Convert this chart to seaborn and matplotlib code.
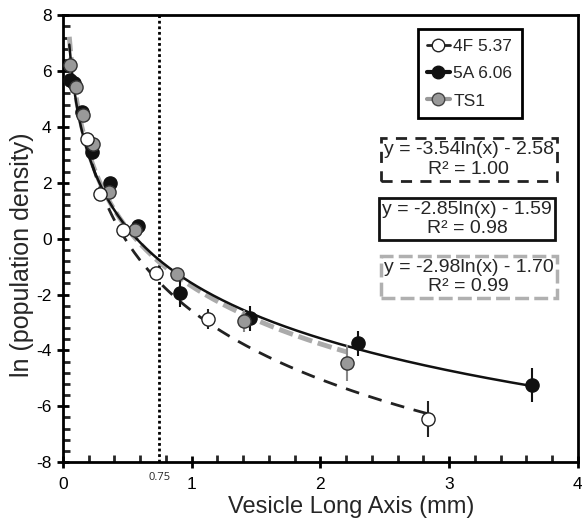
import numpy as np
import pandas as pd
import seaborn as sns
import matplotlib.pyplot as plt
from matplotlib.lines import Line2D
from matplotlib.ticker import MultipleLocator

# ---- data ----
x_4f = [0.19, 0.29, 0.47, 0.72, 1.13, 2.835]
y_4f = [3.56, 1.60, 0.30, -1.23, -2.88, -6.46]
e_4f = [0.0, 0.0, 0.0, 0.0, 0.35, 0.65]

x_5a = [0.054, 0.09, 0.145, 0.23, 0.365, 0.58, 0.91, 1.45, 2.29, 3.64]
y_5a = [5.67, 5.56, 4.53, 3.10, 2.00, 0.45, -1.96, -2.85, -3.75, -5.24]
e_5a = [0.0, 0.0, 0.0, 0.0, 0.0, 0.0, 0.5, 0.45, 0.45, 0.6]

x_ts = [0.054, 0.10, 0.155, 0.235, 0.36, 0.56, 0.89, 1.41, 2.21]
y_ts = [6.20, 5.42, 4.42, 3.38, 1.67, 0.32, -1.28, -2.95, -4.46]
e_ts = [0.0, 0.0, 0.0, 0.0, 0.0, 0.0, 0.0, 0.4, 0.65]

# log fits printed on the chart: y = a*ln(x) + b  (a, b, x start, x end)
fit_4f = (-3.54, -2.58, 0.18, 2.85)
fit_5a = (-2.85, -1.59, 0.05, 3.64)
fit_ts = (-2.98, -1.70, 0.05, 2.21)

sns.set_style("ticks")
plt.rcParams['font.family'] = ['Liberation Sans', 'DejaVu Sans']
plt.rcParams['axes.unicode_minus'] = False

fig = plt.figure(figsize=(5.82, 5.24), dpi=100)
ax = fig.add_axes([0.108, 0.118, 0.885, 0.853])

# fitted curves
def curve(fit):
    a, b, x0, x1 = fit
    xs = np.linspace(x0, x1, 200)
    return pd.DataFrame({"x": xs, "y": a * np.log(xs) + b})

sns.lineplot(data=curve(fit_ts), x="x", y="y", ax=ax, color="#ababab",
             lw=3.5, dashes=(3, 1.2), legend=False)
sns.lineplot(data=curve(fit_4f), x="x", y="y", ax=ax, color="#222222",
             lw=2, dashes=(5, 3.5), legend=False)
sns.lineplot(data=curve(fit_5a), x="x", y="y", ax=ax, color="#111111",
             lw=1.8, legend=False)

# points with error bars
ms = 9.5
ax.errorbar(x_ts, y_ts, yerr=e_ts, fmt="o", ms=ms, mfc="#999999",
            mec="#333333", mew=1, ecolor="#888888", elinewidth=1.5, zorder=4)
ax.errorbar(x_5a, y_5a, yerr=e_5a, fmt="o", ms=ms, mfc="#111111",
            mec="#111111", mew=1, ecolor="#111111", elinewidth=1.5, zorder=3)
ax.errorbar(x_4f, y_4f, yerr=e_4f, fmt="o", ms=ms, mfc="white",
            mec="#222222", mew=1, ecolor="#222222", elinewidth=1.5, zorder=5)

# 0.75 marker line
ax.axvline(0.75, color="black", ls=(0, (1, 1)), lw=2, zorder=1)
ax.text(0.75, -8.35, "0.75", ha="center", va="top", fontsize=8,
        family=["Open Sans", "DejaVu Sans"])

ax.set_xlim(0, 4)
ax.set_ylim(-8, 8)
ax.xaxis.set_major_locator(MultipleLocator(1))
ax.xaxis.set_minor_locator(MultipleLocator(0.2))
ax.yaxis.set_major_locator(MultipleLocator(2))
ax.yaxis.set_minor_locator(MultipleLocator(0.4))
ax.tick_params(which="major", direction="inout", length=9, width=2,
               labelsize=12.5, colors="black")
ax.tick_params(which="minor", direction="in", length=5, width=2)
ax.tick_params(axis="x", pad=6)
for s in ax.spines.values():
    s.set_linewidth(2)
    s.set_color("black")

ax.set_xlabel("Vesicle Long Axis (mm)", fontsize=17)
ax.xaxis.set_label_coords(0.56, -0.075, transform=ax.transAxes)
ax.xaxis.label.set_va("top")
ax.set_ylabel("ln (population density)", fontsize=18)
ax.yaxis.set_label_coords(-0.08, 0.465, transform=ax.transAxes)
ax.yaxis.label.set_va("center")

# legend
handles = [
    Line2D([], [], color="#222222", lw=2, marker="o", ms=9, mfc="white",
           mec="#222222", label="4F 5.37"),
    Line2D([], [], color="#111111", lw=3, marker="o", ms=9, mfc="#111111",
           mec="#111111", label="5A 6.06"),
    Line2D([], [], color="#999999", lw=3, marker="o", ms=9, mfc="#999999",
           mec="#444444", label="TS1"),
]
leg = ax.legend(handles=handles, loc="upper left",
                bbox_to_anchor=(0.672, 0.988), fontsize=12.5, handlelength=1.3,
                handletextpad=0.2, labelspacing=0.7, borderpad=0.55,
                fancybox=False, framealpha=1, edgecolor="black")
leg.get_frame().set_linewidth(2)

# equation boxes
eq_kw = dict(ha="center", va="center", fontsize=14, transform=ax.transAxes,
             multialignment="center", zorder=6, linespacing=1.2)
ax.text(0.788, 0.677, "y = -3.54ln(x) - 2.58\nR² = 1.00",
        bbox=dict(boxstyle="square,pad=0.15", fc="white", ec="#222222",
                  lw=2, ls=(0, (4, 3))), **eq_kw)
ax.text(0.785, 0.544, "y = -2.85ln(x) - 1.59\nR² = 0.98",
        bbox=dict(boxstyle="square,pad=0.15", fc="white", ec="#111111",
                  lw=2), **eq_kw)
ax.text(0.788, 0.414, "y = -2.98ln(x) - 1.70\nR² = 0.99",
        bbox=dict(boxstyle="square,pad=0.15", fc="white", ec="#b0b0b0",
                  lw=2.5, ls=(0, (4, 1.5))), **eq_kw)

fig.savefig("out.png", dpi=100)
